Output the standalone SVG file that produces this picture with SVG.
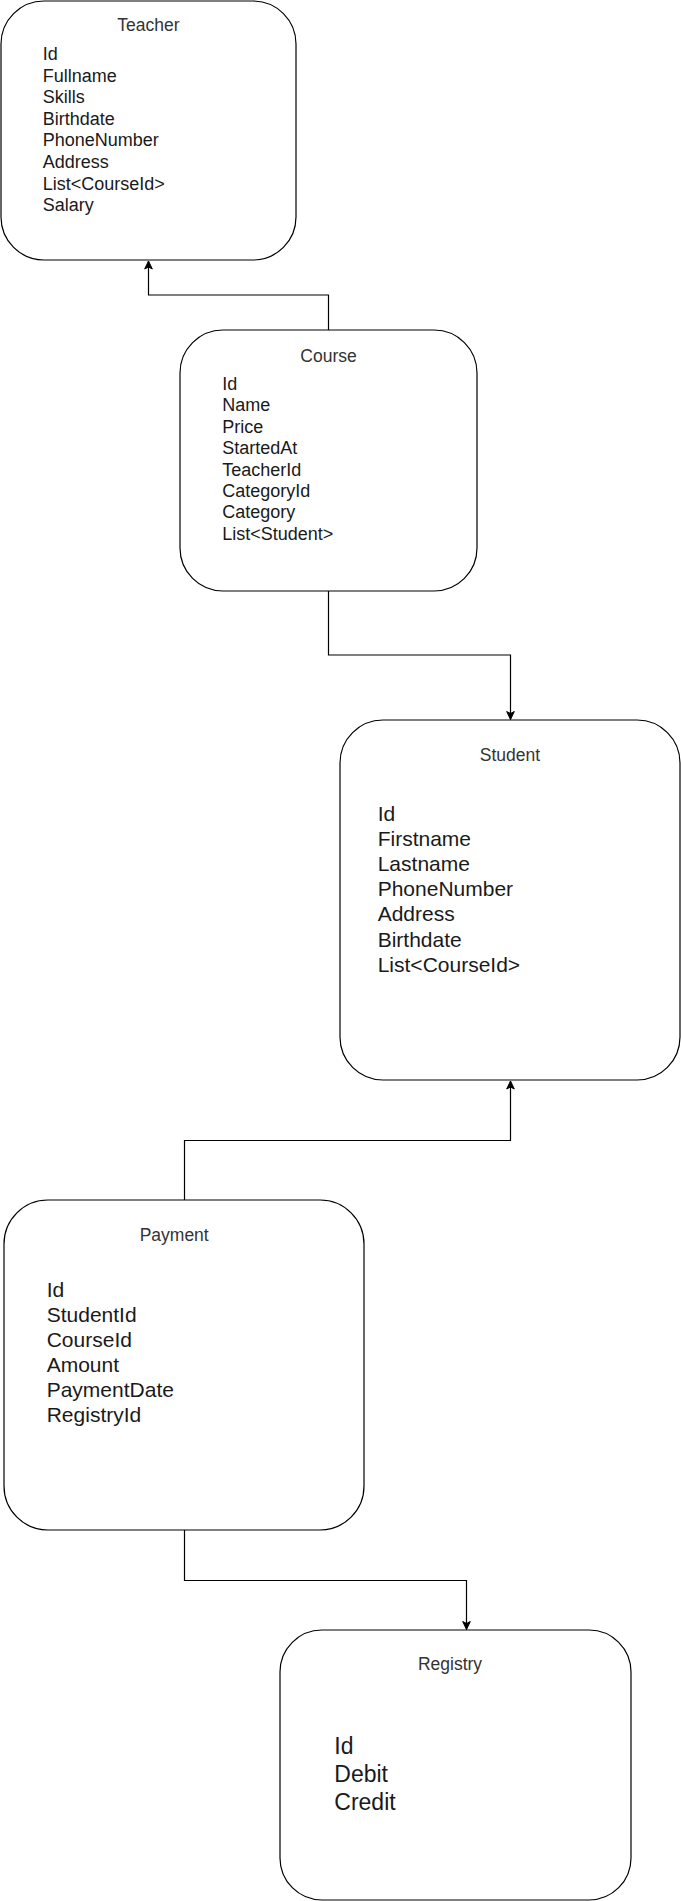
<svg xmlns="http://www.w3.org/2000/svg" width="681" height="1901" viewBox="0 0 681 1901">
<style>
.box{fill:#fff;stroke:#000;stroke-width:1.2}
.title{font-family:"Liberation Sans",Arial,sans-serif;font-size:17.5px;fill:#333;text-anchor:middle}
.attr{font-family:"Liberation Sans",Arial,sans-serif;fill:#1a1a1a}
.conn{fill:none;stroke:#000;stroke-width:1.2}
</style>
<defs>
<marker id="arr" markerUnits="userSpaceOnUse" markerWidth="12" markerHeight="12" viewBox="-1 -6 12 12" refX="8" refY="0" orient="auto">
<path d="M0,-3.8 L8,0 L0,3.8 L2,0 Z" fill="#000" stroke="#000" stroke-width="1"/>
</marker>
</defs>
<rect width="681" height="1901" fill="#fff"/>
<g id="connectors">
<path class="conn" d="M328.5,330 V295 H148.5 V261" marker-end="url(#arr)"/>
<path class="conn" d="M328.5,591 V655 H510.5 V719.5" marker-end="url(#arr)"/>
<path class="conn" d="M184.5,1200 V1140.5 H510.5 V1081" marker-end="url(#arr)"/>
<path class="conn" d="M184.5,1530 V1580.5 H466.5 V1629.5" marker-end="url(#arr)"/>
</g>
<g id="teacher">
<rect class="box" x="1" y="1" width="295" height="259" rx="43" ry="43"/>
<text class="title" x="148.5" y="31">Teacher</text>
<text class="attr" font-size="18" x="42.7" y="60">
<tspan x="42.7" y="60">Id</tspan>
<tspan x="42.7" y="81.6">Fullname</tspan>
<tspan x="42.7" y="103.2">Skills</tspan>
<tspan x="42.7" y="124.8">Birthdate</tspan>
<tspan x="42.7" y="146.4">PhoneNumber</tspan>
<tspan x="42.7" y="168">Address</tspan>
<tspan x="42.7" y="189.6">List&lt;CourseId&gt;</tspan>
<tspan x="42.7" y="211.2">Salary</tspan>
</text>
</g>
<g id="course">
<rect class="box" x="180" y="330" width="297" height="261" rx="43" ry="43"/>
<text class="title" x="328.5" y="361.7">Course</text>
<text class="attr" font-size="18" x="222.3" y="390">
<tspan x="222.3" y="390">Id</tspan>
<tspan x="222.3" y="411.4">Name</tspan>
<tspan x="222.3" y="432.8">Price</tspan>
<tspan x="222.3" y="454.2">StartedAt</tspan>
<tspan x="222.3" y="475.6">TeacherId</tspan>
<tspan x="222.3" y="497">CategoryId</tspan>
<tspan x="222.3" y="518.4">Category</tspan>
<tspan x="222.3" y="539.8">List&lt;Student&gt;</tspan>
</text>
</g>
<g id="student">
<rect class="box" x="340" y="720" width="340" height="360" rx="43" ry="43"/>
<text class="title" x="510" y="760.7">Student</text>
<text class="attr" font-size="21" x="377.7" y="821">
<tspan x="377.7" y="821">Id</tspan>
<tspan x="377.7" y="846.1">Firstname</tspan>
<tspan x="377.7" y="871.2">Lastname</tspan>
<tspan x="377.7" y="896.3">PhoneNumber</tspan>
<tspan x="377.7" y="921.4">Address</tspan>
<tspan x="377.7" y="946.5">Birthdate</tspan>
<tspan x="377.7" y="971.6">List&lt;CourseId&gt;</tspan>
</text>
</g>
<g id="payment">
<rect class="box" x="4" y="1200" width="360" height="330" rx="44" ry="44"/>
<text class="title" x="174.2" y="1240.7">Payment</text>
<text class="attr" font-size="21" x="46.7" y="1296.7">
<tspan x="46.7" y="1296.7">Id</tspan>
<tspan x="46.7" y="1321.8">StudentId</tspan>
<tspan x="46.7" y="1346.9">CourseId</tspan>
<tspan x="46.7" y="1372">Amount</tspan>
<tspan x="46.7" y="1397.1">PaymentDate</tspan>
<tspan x="46.7" y="1422.2">RegistryId</tspan>
</text>
</g>
<g id="registry">
<rect class="box" x="280" y="1630" width="351" height="270" rx="42" ry="42"/>
<text class="title" x="450" y="1670">Registry</text>
<text class="attr" font-size="23" x="334.3" y="1754.3">
<tspan x="334.3" y="1754.3">Id</tspan>
<tspan x="334.3" y="1781.9">Debit</tspan>
<tspan x="334.3" y="1809.5">Credit</tspan>
</text>
</g>
</svg>
